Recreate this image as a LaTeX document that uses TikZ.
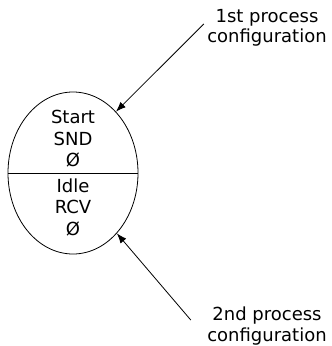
\documentclass[tikz,border=0pt]{standalone}
\usepackage{fontspec}
\setmainfont{DejaVu Sans}
\usetikzlibrary{shapes.geometric, arrows.meta}

\begin{document}
\begin{tikzpicture}[x=1pt, y=-1pt,
    state/.style={ellipse, draw, line width=0.8pt, minimum width=130pt,
                  minimum height=162pt, inner sep=0pt},
    part/.style={align=center, font=\fontsize{18}{21.5}\selectfont},
    lbl/.style={align=center, font=\fontsize{18}{20.5}\selectfont},
    arr/.style={-{Latex[length=10pt, width=7.5pt]}, line width=0.8pt}
  ]
  \useasboundingbox (0,0) rectangle (332,346);

  % process state, sender half on top, receiver half below
  \node[state] (st) at (73,173) {};
  \draw[line width=0.8pt] (st.west) -- (st.east);
  \node[part] (snd) at (73,139) {Start\\SND\\Ø};
  \node[part] (rcv) at (73,207) {Idle\\RCV\\Ø};

  \node[lbl] (cfg1) at (267,28)  {1st process\\configuration};
  \node[lbl] (cfg2) at (267,326) {2nd process\\configuration};

  \draw[arr] ([yshift=4pt]cfg1.west) -- (st.55);
  \draw[arr] ([xshift=-13pt,yshift=6pt]cfg2.west) -- (st.-54);
\end{tikzpicture}
\end{document}
